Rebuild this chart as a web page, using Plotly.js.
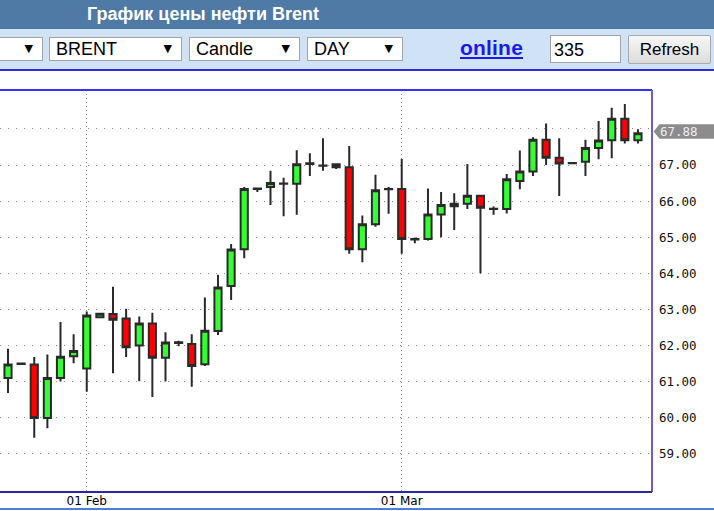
<!DOCTYPE html>
<html>
<head>
<meta charset="utf-8">
<script src="https://cdn.plot.ly/plotly-3.0.1.min.js"></script>
<style>
html,body{margin:0;padding:0;}
body{width:714px;height:511px;overflow:hidden;background:#fff;position:relative;font-family:"Liberation Sans",Arial,sans-serif;}
#hdr{position:absolute;left:0;top:0;width:714px;height:29px;background:#4f7aa6;}
#hdr span{position:absolute;left:87px;top:4px;color:#fff;font-weight:bold;font-size:18px;white-space:nowrap;}
#bar{position:absolute;left:0;top:29px;width:714px;height:40px;background:#d0e2f6;border-bottom:2px solid #2c2cdc;}
.sel{position:absolute;top:8px;height:22px;background:#fff;border:1px solid #a3a3a3;font-size:18px;line-height:22px;color:#000;box-sizing:content-box;}
.sel .t{position:absolute;left:6px;top:0;}
.sel .a{position:absolute;right:9px;top:0;font-family:"DejaVu Sans",sans-serif;font-size:11px;line-height:22px;}
#online{position:absolute;left:460px;top:7px;font-size:21px;font-weight:bold;color:#1a1aee;text-decoration:underline;letter-spacing:0.2px;}
#inp{position:absolute;left:550px;top:6px;width:71px;height:28px;background:#fff;border:1px solid #a3a3a3;font-size:18px;line-height:28px;box-sizing:border-box;padding-left:3px;}
#btn{position:absolute;left:628px;top:6px;width:83px;height:29px;border:1px solid #a9a9a9;border-radius:2px;background:linear-gradient(#f7f7f7,#dcdcdc);font-size:17px;line-height:27px;text-align:center;box-sizing:border-box;}
#plot{position:absolute;left:0;top:71px;width:714px;height:440px;}
#botline{position:absolute;left:0;top:508px;width:714px;height:2px;background:#4b80d6;z-index:5;}
</style>
</head>
<body>
<div id="hdr"><span>График цены нефти Brent</span></div>
<div id="bar">
  <div class="sel" style="left:-10px;width:51px;"><span class="a">&#9660;</span></div>
  <div class="sel" style="left:49px;width:131px;"><span class="t">BRENT</span><span class="a">&#9660;</span></div>
  <div class="sel" style="left:189px;width:109px;"><span class="t">Candle</span><span class="a">&#9660;</span></div>
  <div class="sel" style="left:307px;width:94px;"><span class="t">DAY</span><span class="a">&#9660;</span></div>
  <div id="online">online</div>
  <div id="inp">335</div>
  <div id="btn">Refresh</div>
</div>
<div id="plot"></div>
<div id="botline"></div>
<script>
const dates = ['2019-01-25','2019-01-27','2019-01-28','2019-01-29','2019-01-30','2019-01-31',
  '2019-02-01','2019-02-03','2019-02-04','2019-02-05','2019-02-06','2019-02-07','2019-02-08',
  '2019-02-10','2019-02-11','2019-02-12','2019-02-13','2019-02-14','2019-02-15',
  '2019-02-17','2019-02-18','2019-02-19','2019-02-20','2019-02-21','2019-02-22',
  '2019-02-24','2019-02-25','2019-02-26','2019-02-27','2019-02-28',
  '2019-03-01','2019-03-03','2019-03-04','2019-03-05','2019-03-06','2019-03-07','2019-03-08',
  '2019-03-10','2019-03-11','2019-03-12','2019-03-13','2019-03-14','2019-03-15',
  '2019-03-17','2019-03-18','2019-03-19','2019-03-20','2019-03-21','2019-03-22'];
const openP  = [61.10,61.49,61.47,59.99,61.10,61.70, 61.36,62.78,62.87,62.75,62.00,62.61,61.66,
  62.07,62.04,61.48,62.40,63.65,64.67, 66.34,66.39,66.48,66.48,67.03,66.98,
  67.02,66.94,64.67,65.36,66.33, 66.34,64.95,64.95,65.63,65.86,65.93,66.15,
  65.78,65.78,66.56,66.82,67.70,67.20, 67.05,67.09,67.47,67.69,68.28,67.69];
const highP  = [61.91,61.52,61.68,61.75,62.65,62.31, 62.94,62.90,63.63,63.02,62.80,62.91,62.37,
  62.13,62.31,63.33,63.96,64.81,66.39, 66.37,66.84,66.65,67.41,67.33,67.74,
  67.03,67.53,65.60,66.73,66.39, 67.17,64.99,66.35,66.25,66.22,67.03,66.16,
  65.85,66.75,67.40,67.77,68.15,67.74, 67.07,67.70,68.22,68.59,68.69,67.99];
const lowP   = [60.68,61.47,59.44,59.71,61.00,61.51, 60.72,62.76,61.23,61.68,61.01,60.57,61.00,
  61.98,60.86,61.43,62.29,63.26,64.42, 66.25,65.89,65.58,65.62,66.70,66.84,
  66.89,64.54,64.31,65.29,65.65, 64.54,64.83,64.91,65.00,65.20,65.78,64.00,
  65.62,65.66,66.33,66.70,67.00,66.14, 67.04,66.70,67.16,67.19,67.60,67.60];
const closeP = [61.47,61.50,59.99,61.10,61.69,61.85, 62.83,62.88,62.71,61.95,62.61,61.66,62.08,
  62.09,61.43,62.41,63.61,64.66,66.34, 66.35,66.50,66.49,67.02,67.05,66.99,
  66.94,64.67,65.36,66.30,66.34, 64.95,64.94,65.63,65.89,65.93,66.15,65.82,
  65.79,66.61,66.82,67.70,67.20,67.04, 67.06,67.47,67.68,68.28,67.69,67.88];
const yTickVals = [59,60,61,62,63,64,65,66,67,68];
const yTickText = ['59.00','60.00','61.00','62.00','63.00','64.00','65.00','66.00','67.00',''];
const xTickVals = ['2019-02-01','2019-03-01'];
const xTickText = ['01 Feb','01 Mar'];

const last = closeP[closeP.length-1];
const yRange = [57.94, 69.08];

const trace = {
  type:'candlestick', x:dates, open:openP, high:highP, low:lowP, close:closeP,
  increasing:{line:{color:'#2a2a2a',width:2}, fillcolor:'#33ff33'},
  decreasing:{line:{color:'#2a2a2a',width:2}, fillcolor:'#ff0000'},
  whiskerwidth:0, hoverinfo:'none', showlegend:false
};

const layout = {
  width:714, height:440,
  margin:{l:0,r:62,t:19,b:19,pad:0},
  paper_bgcolor:'rgba(0,0,0,0)', plot_bgcolor:'#ffffff',
  showlegend:false, boxgap:0.22,
  xaxis:{type:'category', range:[-0.61,49.07], rangeslider:{visible:false},
    tickvals:xTickVals, ticktext:xTickText, ticks:'', showline:false, zeroline:false,
    showgrid:true, gridcolor:'#8a8a8a', gridwidth:1, griddash:'1px,3px',
    tickfont:{family:'DejaVu Sans, sans-serif', size:12, color:'#000'}, ticklabelstandoff:0, fixedrange:true},
  yaxis:{side:'right', range:yRange, tickvals:yTickVals, ticktext:yTickText, ticks:'',
    showline:false, zeroline:false, showgrid:true, gridcolor:'#8a8a8a', gridwidth:1, griddash:'1px,7px',
    tickfont:{family:'DejaVu Sans Mono, monospace', size:12.5, color:'#111'}, ticklabelstandoff:6, fixedrange:true},
  shapes:[
    {type:'line', xref:'paper', yref:'paper', x0:0, x1:1, y0:1, y1:1, line:{color:'#3535f0', width:2}, layer:'above'},
    {type:'line', xref:'paper', yref:'paper', x0:1, x1:1, y0:0, y1:1, line:{color:'#6a5fd2', width:2}, layer:'above'},
    {type:'line', xref:'paper', yref:'paper', x0:0, x1:1, y0:0, y1:0, line:{color:'#2a2aa8', width:2}, layer:'above'},
    {type:'path', xref:'paper', yref:'y', layer:'above', fillcolor:'#8c8c8c', line:{width:0},
      path:'M 1.0025 '+(last+0.05)+' L 1.0115 '+(last+0.25)+' L 1.1 '+(last+0.25)+' L 1.1 '+(last-0.15)+' L 1.0115 '+(last-0.15)+' Z'}
  ],
  annotations:[
    {xref:'paper', yref:'y', x:1, y:last+0.05, xanchor:'left', yanchor:'middle', xshift:6, showarrow:false,
      text:last.toFixed(2), font:{family:'DejaVu Sans Mono, monospace', size:12.5, color:'#eeeeee'}}
  ]
};

Plotly.newPlot('plot',[trace],layout,{staticPlot:true, displayModeBar:false});
</script>
</body>
</html>
